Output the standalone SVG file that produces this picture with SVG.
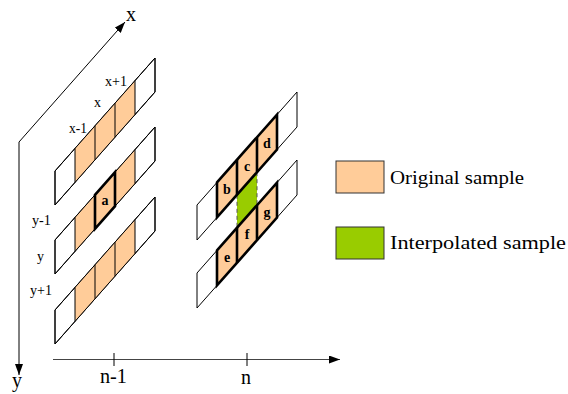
<svg xmlns="http://www.w3.org/2000/svg" width="568" height="394" viewBox="0 0 568 394">
<defs>
<marker id="arr" markerUnits="userSpaceOnUse" markerWidth="11" markerHeight="8" refX="11" refY="4" orient="auto">
<path d="M0,0 L11,4 L0,8 z" fill="#000"/>
</marker>
<style>
.strip{fill:#fff;stroke:#000;stroke-width:1}
.org{fill:#FFCC99;stroke:none}
.grn{fill:#99CC00;stroke:none}
.div{stroke:#000;stroke-width:1;fill:none}
.bold{fill:none;stroke:#000;stroke-width:2.6;stroke-linejoin:miter}
.dash{stroke:#555;stroke-width:1;stroke-dasharray:4,3}
.lbl{font-family:"Liberation Serif",serif;font-size:14px;fill:#000}
.cell{font-family:"Liberation Serif",serif;font-size:14px;font-weight:bold;fill:#000;text-anchor:middle}
.ax{font-family:"Liberation Serif",serif;font-size:20px;fill:#000}
.leg{font-family:"Liberation Serif",serif;font-size:18px;fill:#000}
</style>
</defs>

<g id="connectors">
<line x1="19" y1="142" x2="125" y2="22" stroke="#000" stroke-width="1" marker-end="url(#arr)"/>
<line x1="19" y1="142" x2="19" y2="375" stroke="#000" stroke-width="1" marker-end="url(#arr)"/>
<line x1="53" y1="359.5" x2="340" y2="359.5" stroke="#444" stroke-width="1.2" marker-end="url(#arr)"/>
<line x1="114" y1="353" x2="114" y2="366" stroke="#000" stroke-width="1"/>
<line x1="247" y1="353" x2="247" y2="366" stroke="#000" stroke-width="1"/>
</g>

<g id="axis-labels">
<text class="ax" x="126" y="21">x</text>
<text class="ax" x="12" y="387">y</text>
<text class="ax" x="100" y="383" textLength="27" lengthAdjust="spacingAndGlyphs">n-1</text>
<text class="ax" x="241" y="384">n</text>
</g>

<g id="strip-n1-1">
<polygon class="strip" points="55,171 155,58 155,92 55,205"/>
<polygon class="org" points="75,148.4 135,80.6 135,114.6 75,182.4"/>
<path class="div" d="M75,148.4V182.4M95,125.8V159.8M115,103.2V137.2M135,80.6V114.6"/>
<polygon class="strip" style="fill:none" points="55,171 155,58 155,92 55,205"/>
</g>

<g id="strip-n1-2">
<polygon class="strip" points="55,240 155,127 155,161 55,274"/>
<polygon class="org" points="75,217.4 135,149.6 135,183.6 75,251.4"/>
<path class="div" d="M75,217.4V251.4M95,194.8V228.8M115,172.2V206.2M135,149.6V183.6"/>
<polygon class="strip" style="fill:none" points="55,240 155,127 155,161 55,274"/>
<polygon class="bold" points="95,194.8 115,172.2 115,206.2 95,228.8"/>
<text class="cell" x="105" y="205">a</text>
</g>

<g id="strip-n1-3">
<polygon class="strip" points="55,310 155,197 155,231 55,344"/>
<polygon class="org" points="75,287.4 135,219.6 135,253.6 75,321.4"/>
<path class="div" d="M75,287.4V321.4M95,264.8V298.8M115,242.2V276.2M135,219.6V253.6"/>
<polygon class="strip" style="fill:none" points="55,310 155,197 155,231 55,344"/>
</g>

<g id="labels-n1">
<text class="lbl" x="105" y="86" textLength="22" lengthAdjust="spacingAndGlyphs">x+1</text>
<text class="lbl" x="94" y="107">x</text>
<text class="lbl" x="69" y="133" textLength="18" lengthAdjust="spacingAndGlyphs">x-1</text>
<text class="lbl" x="32" y="225" textLength="19" lengthAdjust="spacingAndGlyphs">y-1</text>
<text class="lbl" x="37" y="261">y</text>
<text class="lbl" x="30" y="295" textLength="22" lengthAdjust="spacingAndGlyphs">y+1</text>
</g>

<g id="green-sample">
<polygon class="grn" points="237,194.8 257,172.2 257,205.2 237,227.8"/>
<line class="dash" x1="237" y1="194.8" x2="237" y2="227.8"/>
<line class="dash" x1="257" y1="172.2" x2="257" y2="205.2"/>
</g>

<g id="strip-n-1">
<polygon class="strip" points="197,205 297,92 297,127 197,240"/>
<polygon class="org" points="217,182.4 277,114.6 277,149.6 217,217.4"/>
<polygon class="bold" points="217,182.4 277,114.6 277,149.6 217,217.4"/>
<path class="bold" d="M237,159.8V194.8M257,137.2V172.2"/>
<text class="cell" x="227" y="194">b</text>
<text class="cell" x="247" y="171">c</text>
<text class="cell" x="267" y="148">d</text>
</g>

<g id="strip-n-2">
<polygon class="strip" points="197,273 297,160 297,195 197,308"/>
<polygon class="org" points="217,250.4 277,182.6 277,217.6 217,285.4"/>
<polygon class="bold" points="217,250.4 277,182.6 277,217.6 217,285.4"/>
<path class="bold" d="M237,227.8V262.8M257,205.2V240.2"/>
<text class="cell" x="227" y="262">e</text>
<text class="cell" x="247" y="239">f</text>
<text class="cell" x="267" y="217">g</text>
</g>

<g id="legend-original">
<rect x="336" y="161" width="48" height="32" fill="#FFCC99" stroke="#333" stroke-width="1"/>
<text class="leg" x="390" y="184" textLength="134" lengthAdjust="spacingAndGlyphs">Original sample</text>
</g>
<g id="legend-interpolated">
<rect x="336" y="227" width="48" height="32" fill="#99CC00" stroke="#333" stroke-width="1"/>
<text class="leg" x="390" y="249" textLength="176" lengthAdjust="spacingAndGlyphs">Interpolated sample</text>
</g>
</svg>
